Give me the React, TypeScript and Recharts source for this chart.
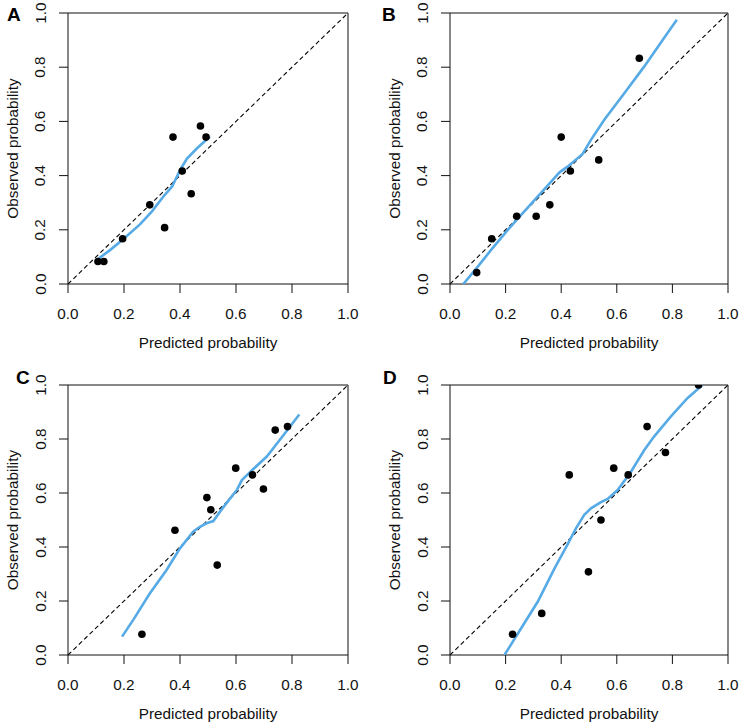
import React from "react";
import {
  ScatterChart,
  Scatter,
  XAxis,
  YAxis,
  ReferenceLine,
} from "recharts";

// ---------- data ----------
const tickValues = [0, 0.2, 0.4, 0.6, 0.8, 1.0];
const tickLabels = ["0.0", "0.2", "0.4", "0.6", "0.8", "1.0"];
const xTitle = "Predicted probability";
const yTitle = "Observed probability";

const pointsA = [
  { x: 0.107, y: 0.083 }, { x: 0.128, y: 0.083 }, { x: 0.195, y: 0.167 },
  { x: 0.292, y: 0.292 }, { x: 0.345, y: 0.208 }, { x: 0.375, y: 0.542 },
  { x: 0.408, y: 0.417 }, { x: 0.44, y: 0.333 }, { x: 0.473, y: 0.583 },
  { x: 0.493, y: 0.542 },
];
const curveA = [
  { x: 0.098, y: 0.085 }, { x: 0.15, y: 0.125 }, { x: 0.195, y: 0.163 },
  { x: 0.257, y: 0.22 }, { x: 0.3, y: 0.268 }, { x: 0.34, y: 0.322 },
  { x: 0.372, y: 0.36 }, { x: 0.4, y: 0.42 }, { x: 0.425, y: 0.463 },
  { x: 0.46, y: 0.5 }, { x: 0.507, y: 0.544 },
];

const pointsB = [
  { x: 0.096, y: 0.042 }, { x: 0.15, y: 0.167 }, { x: 0.24, y: 0.25 },
  { x: 0.31, y: 0.25 }, { x: 0.359, y: 0.292 }, { x: 0.4, y: 0.542 },
  { x: 0.433, y: 0.417 }, { x: 0.535, y: 0.458 }, { x: 0.681, y: 0.833 },
];
const curveB = [
  { x: 0.048, y: 0.0 }, { x: 0.1, y: 0.064 }, { x: 0.148, y: 0.126 },
  { x: 0.208, y: 0.2 }, { x: 0.256, y: 0.255 }, { x: 0.316, y: 0.323 },
  { x: 0.364, y: 0.378 }, { x: 0.394, y: 0.412 }, { x: 0.423, y: 0.433 },
  { x: 0.477, y: 0.48 }, { x: 0.507, y: 0.532 }, { x: 0.555, y: 0.606 },
  { x: 0.627, y: 0.704 }, { x: 0.699, y: 0.803 }, { x: 0.77, y: 0.908 },
  { x: 0.816, y: 0.975 },
];

const pointsC = [
  { x: 0.264, y: 0.077 }, { x: 0.382, y: 0.462 }, { x: 0.496, y: 0.583 },
  { x: 0.51, y: 0.538 }, { x: 0.533, y: 0.333 }, { x: 0.599, y: 0.692 },
  { x: 0.659, y: 0.667 }, { x: 0.698, y: 0.615 }, { x: 0.74, y: 0.833 },
  { x: 0.784, y: 0.846 },
];
const curveC = [
  { x: 0.193, y: 0.068 }, { x: 0.233, y: 0.13 }, { x: 0.292, y: 0.228 },
  { x: 0.352, y: 0.315 }, { x: 0.4, y: 0.395 }, { x: 0.447, y: 0.457 },
  { x: 0.471, y: 0.475 }, { x: 0.495, y: 0.488 }, { x: 0.519, y: 0.496 },
  { x: 0.543, y: 0.531 }, { x: 0.579, y: 0.58 }, { x: 0.603, y: 0.611 },
  { x: 0.621, y: 0.648 }, { x: 0.662, y: 0.689 }, { x: 0.71, y: 0.735 },
  { x: 0.77, y: 0.815 }, { x: 0.826, y: 0.891 },
];

const pointsD = [
  { x: 0.225, y: 0.077 }, { x: 0.33, y: 0.154 }, { x: 0.429, y: 0.667 },
  { x: 0.498, y: 0.308 }, { x: 0.543, y: 0.5 }, { x: 0.589, y: 0.692 },
  { x: 0.641, y: 0.667 }, { x: 0.709, y: 0.846 }, { x: 0.775, y: 0.75 },
  { x: 0.894, y: 1.0 },
];
const curveD = [
  { x: 0.196, y: 0.0 }, { x: 0.256, y: 0.099 }, { x: 0.316, y: 0.198 },
  { x: 0.376, y: 0.321 }, { x: 0.423, y: 0.41 }, { x: 0.453, y: 0.469 },
  { x: 0.483, y: 0.519 }, { x: 0.507, y: 0.543 }, { x: 0.543, y: 0.566 },
  { x: 0.567, y: 0.578 }, { x: 0.603, y: 0.611 }, { x: 0.651, y: 0.679 },
  { x: 0.699, y: 0.759 }, { x: 0.734, y: 0.809 }, { x: 0.794, y: 0.883 },
  { x: 0.854, y: 0.951 }, { x: 0.908, y: 1.0 },
];

// ---------- style ----------
const FONT = "'Liberation Sans', Arial, sans-serif";
const TXT = "#111";
const BLUE = "#56AAE6";
const CELL_W = 371;
const CELL_H = 363;

type Pt = { x: number; y: number };

type PanelProps = {
  letter: string;
  cellX: number;
  cellY: number;
  boxL: number;
  boxT: number;
  boxR: number;
  boxB: number;
  letterX: number;
  letterY: number;
  points: Pt[];
  curve: Pt[];
};

function Panel(p: PanelProps) {
  const L = p.boxL - p.cellX;
  const T = p.boxT - p.cellY;
  const R = p.boxR - p.cellX;
  const B = p.boxB - p.cellY;
  const fmt = (v: number) => tickLabels[tickValues.indexOf(v)] ?? v.toFixed(1);

  const XTick = (t: any) => (
    <text
      x={t.x}
      y={B + 29.5}
      textAnchor="middle"
      dominantBaseline="central"
      fontFamily={FONT}
      fontSize={15.3}
      fill={TXT}
    >
      {fmt(t.payload.value)}
    </text>
  );
  const YTick = (t: any) => (
    <text
      x={L - 28}
      y={t.y}
      transform={`rotate(-90, ${L - 28}, ${t.y})`}
      textAnchor="middle"
      dominantBaseline="central"
      fontFamily={FONT}
      fontSize={15.3}
      fill={TXT}
    >
      {fmt(t.payload.value)}
    </text>
  );

  const XTitle = () => (
    <text
      x={(L + R) / 2}
      y={B + 58}
      textAnchor="middle"
      dominantBaseline="central"
      fontFamily={FONT}
      fontSize={15.3}
      fill={TXT}
    >
      {xTitle}
    </text>
  );
  const YTitle = () => {
    const cx = L - 56;
    const cy = (T + B) / 2;
    return (
      <g>
        <text
          x={cx}
          y={cy}
          transform={`rotate(-90, ${cx}, ${cy})`}
          textAnchor="middle"
          dominantBaseline="central"
          fontFamily={FONT}
          fontSize={15.3}
          fill={TXT}
        >
          {yTitle}
        </text>
        <text
          x={p.letterX}
          y={p.letterY}
          fontFamily={FONT}
          fontSize={19}
          fontWeight="bold"
          fill="#000"
        >
          {p.letter}
        </text>
      </g>
    );
  };

  return (
    <div
      style={{
        position: "absolute",
        left: p.cellX,
        top: p.cellY,
        width: CELL_W,
        height: CELL_H,
      }}
    >
      <ScatterChart
        width={CELL_W}
        height={CELL_H}
        margin={{ top: T, right: CELL_W - R, left: 0, bottom: 0 }}
      >
        <XAxis
          type="number"
          dataKey="x"
          domain={[0, 1]}
          ticks={tickValues}
          allowDataOverflow
          height={CELL_H - B}
          tickSize={9}
          tickLine={{ stroke: "#111", strokeWidth: 1 }}
          axisLine={{ stroke: "#111", strokeWidth: 1 }}
          tick={XTick}
          interval={0}
          label={{ content: XTitle }}
        />
        <YAxis
          type="number"
          dataKey="y"
          domain={[0, 1]}
          ticks={tickValues}
          allowDataOverflow
          width={L}
          tickSize={9}
          tickLine={{ stroke: "#111", strokeWidth: 1 }}
          axisLine={{ stroke: "#111", strokeWidth: 1 }}
          tick={YTick}
          interval={0}
          label={{ content: YTitle }}
        />
        <ReferenceLine y={1} stroke="#111" strokeWidth={1} />
        <ReferenceLine x={1} stroke="#111" strokeWidth={1} />
        <ReferenceLine
          segment={[
            { x: 0, y: 0 },
            { x: 1, y: 1 },
          ]}
          stroke="#000"
          strokeWidth={1.1}
          strokeDasharray="4.5 3"
        />
        <Scatter
          data={p.curve}
          line={{ stroke: BLUE, strokeWidth: 2.6 }}
          shape={() => <g />}
          isAnimationActive={false}
        />
        <Scatter
          data={p.points}
          shape={(s: any) => <circle cx={s.cx} cy={s.cy} r={3.8} fill="#000" />}
          isAnimationActive={false}
        />
      </ScatterChart>
    </div>
  );
}

export default function App() {
  return (
    <div
      style={{
        position: "absolute",
        left: 0,
        top: 0,
        width: 742,
        height: 725,
        background: "#fff",
      }}
    >
      <Panel letter="A" cellX={0} cellY={0} boxL={68} boxT={13} boxR={348} boxB={284}
        letterX={7} letterY={21} points={pointsA} curve={curveA} />
      <Panel letter="B" cellX={371} cellY={0} boxL={450} boxT={13} boxR={728} boxB={284}
        letterX={11} letterY={21} points={pointsB} curve={curveB} />
      <Panel letter="C" cellX={0} cellY={362} boxL={68} boxT={385} boxR={348} boxB={655}
        letterX={16} letterY={22} points={pointsC} curve={curveC} />
      <Panel letter="D" cellX={371} cellY={362} boxL={450} boxT={385} boxR={728} boxB={655}
        letterX={12} letterY={22} points={pointsD} curve={curveD} />
    </div>
  );
}
